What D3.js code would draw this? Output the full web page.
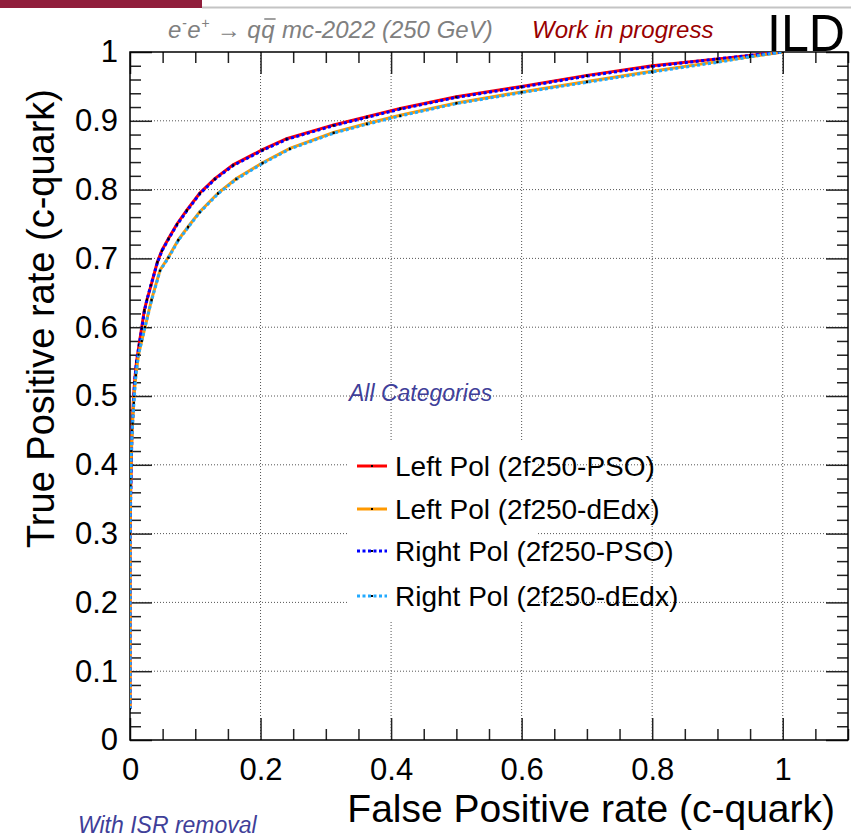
<!DOCTYPE html>
<html>
<head>
<meta charset="utf-8">
<script src="https://cdn.jsdelivr.net/npm/d3@7"></script>
<style>
  body { margin: 0; background: #fff; }
  text { font-family: "Liberation Sans", Arial, sans-serif; }
</style>
</head>
<body>
<div id="chart"></div>
<script>
// ROC curves (FPR, TPR)
var leftPsoFpr = [0, 0, 0.001, 0.002, 0.003, 0.005, 0.007, 0.01, 0.014, 0.018, 0.022, 0.026, 0.032, 0.042, 0.049, 0.059, 0.072, 0.087, 0.107, 0.13, 0.158, 0.203, 0.24, 0.312, 0.363, 0.414, 0.5, 0.6, 0.7, 0.8, 0.9, 0.95, 1.0];
var leftPsoTpr = [0.045, 0.30, 0.36, 0.41, 0.45, 0.49, 0.52, 0.55, 0.575, 0.60, 0.625, 0.64, 0.66, 0.695, 0.712, 0.729, 0.75, 0.77, 0.795, 0.816, 0.836, 0.858, 0.874, 0.894, 0.906, 0.918, 0.935, 0.95, 0.966, 0.98, 0.99, 0.995, 1.0];

var rightPsoFpr = [0, 0, 0.001, 0.002, 0.003, 0.005, 0.007, 0.01, 0.014, 0.018, 0.022, 0.026, 0.032, 0.042, 0.049, 0.059, 0.072, 0.087, 0.107, 0.13, 0.158, 0.203, 0.24, 0.312, 0.363, 0.414, 0.5, 0.6, 0.7, 0.8, 0.9, 0.95, 1.0];
var rightPsoTpr = [0.045, 0.29, 0.35, 0.40, 0.45, 0.48, 0.52, 0.55, 0.574, 0.598, 0.623, 0.64, 0.661, 0.694, 0.711, 0.728, 0.749, 0.769, 0.794, 0.815, 0.835, 0.857, 0.873, 0.893, 0.905, 0.917, 0.934, 0.949, 0.965, 0.979, 0.99, 0.995, 1.0];

var leftDedxFpr = [0, 0, 0.001, 0.002, 0.004, 0.006, 0.009, 0.013, 0.018, 0.023, 0.033, 0.046, 0.059, 0.074, 0.089, 0.107, 0.135, 0.163, 0.203, 0.245, 0.312, 0.363, 0.414, 0.5, 0.6, 0.7, 0.8, 0.9, 0.95, 1.0];
var leftDedxTpr = [0.045, 0.30, 0.38, 0.42, 0.46, 0.5, 0.53, 0.56, 0.58, 0.60, 0.64, 0.683, 0.702, 0.727, 0.746, 0.768, 0.795, 0.816, 0.839, 0.86, 0.883, 0.896, 0.908, 0.926, 0.942, 0.957, 0.972, 0.986, 0.993, 1.0];

var rightDedxFpr = [0, 0, 0.001, 0.002, 0.004, 0.006, 0.009, 0.013, 0.018, 0.023, 0.033, 0.046, 0.059, 0.074, 0.089, 0.107, 0.135, 0.163, 0.203, 0.245, 0.312, 0.363, 0.414, 0.5, 0.6, 0.7, 0.8, 0.9, 0.95, 1.0];
var rightDedxTpr = [0.045, 0.30, 0.37, 0.42, 0.46, 0.49, 0.53, 0.56, 0.58, 0.60, 0.639, 0.682, 0.701, 0.726, 0.745, 0.767, 0.794, 0.815, 0.838, 0.859, 0.882, 0.895, 0.907, 0.925, 0.941, 0.956, 0.971, 0.985, 0.993, 1.0];

var seriesNames = ["Left Pol (2f250-PSO)", "Left Pol (2f250-dEdx)", "Right Pol (2f250-PSO)", "Right Pol (2f250-dEdx)"];

var xTickValues = [0, 0.2, 0.4, 0.6, 0.8, 1.0];
var xTickLabels = ["0", "0.2", "0.4", "0.6", "0.8", "1"];
var yTickValues = [0, 0.1, 0.2, 0.3, 0.4, 0.5, 0.6, 0.7, 0.8, 0.9, 1.0];
var yTickLabels = ["0", "0.1", "0.2", "0.3", "0.4", "0.5", "0.6", "0.7", "0.8", "0.9", "1"];

var svgWidth = 851;
var svgHeight = 838;

var margin = { top: 52, right: 3, bottom: 98, left: 130 };
var width = svgWidth - margin.left - margin.right;
var height = svgHeight - margin.top - margin.bottom;

var svg = d3.select("#chart")
  .append("svg")
  .attr("width", svgWidth)
  .attr("height", svgHeight);

// top banner
svg.append("rect").attr("x", 0).attr("y", 0).attr("width", 202).attr("height", 8).attr("fill", "#901e3c");
svg.append("line").attr("x1", 202).attr("x2", svgWidth).attr("y1", 7.5).attr("y2", 7.5)
  .attr("stroke", "#c4c4c4").attr("stroke-width", 2);

var chartGroup = svg.append("g")
  .attr("transform", `translate(${margin.left}, ${margin.top})`);

var x = d3.scaleLinear().domain([0, 1.1]).range([0, width]);
var y = d3.scaleLinear().domain([0, 1]).range([height, 0]);

// minor tick positions
var xMinor = d3.range(1, 23).map(i => +(i * 0.05).toFixed(2)).filter(v => Math.abs(v * 5 - Math.round(v * 5)) > 1e-6);
var yMinor = d3.range(1, 50).map(i => +(i * 0.02).toFixed(2)).filter(v => Math.abs(v * 10 - Math.round(v * 10)) > 1e-6);

// grid
chartGroup.append("g")
  .selectAll("line")
  .data(xTickValues.slice(1))
  .enter()
  .append("line")
  .attr("x1", d => x(d)).attr("x2", d => x(d))
  .attr("y1", 0).attr("y2", height)
  .attr("stroke", "#555").attr("stroke-width", 1).attr("stroke-dasharray", "1,2");

chartGroup.append("g")
  .selectAll("line")
  .data(yTickValues.slice(1, -1))
  .enter()
  .append("line")
  .attr("x1", 0).attr("x2", width)
  .attr("y1", d => y(d)).attr("y2", d => y(d))
  .attr("stroke", "#555").attr("stroke-width", 1).attr("stroke-dasharray", "1,2");

// legend box (white, no border) drawn over the grid
var legendX = 347, legendY = 440;
svg.append("rect")
  .attr("x", legendX).attr("y", legendY).attr("width", 190).attr("height", 180)
  .attr("fill", "#fff");

// axes: major and minor ticks on all four sides, pointing inward
function cleanAxis(g) {
  g.select(".domain").remove();
  g.selectAll(".tick line").attr("stroke", "#222").attr("stroke-width", 1.5);
  g.selectAll("text").style("font-size", "31px").attr("fill", "#000");
}

chartGroup.append("g")
  .attr("transform", `translate(0, ${height})`)
  .call(d3.axisBottom(x).tickValues(xTickValues).tickFormat((d, i) => xTickLabels[i]).tickSize(-22).tickPadding(18))
  .call(cleanAxis);
chartGroup.append("g")
  .attr("transform", `translate(0, ${height})`)
  .call(d3.axisBottom(x).tickValues(xMinor).tickFormat("").tickSize(-11))
  .call(cleanAxis);
chartGroup.append("g")
  .call(d3.axisTop(x).tickValues(xTickValues).tickFormat("").tickSize(-22))
  .call(cleanAxis);
chartGroup.append("g")
  .call(d3.axisTop(x).tickValues(xMinor).tickFormat("").tickSize(-11))
  .call(cleanAxis);

chartGroup.append("g")
  .call(d3.axisLeft(y).tickValues(yTickValues).tickFormat((d, i) => yTickLabels[i]).tickSize(-22).tickPadding(12))
  .call(cleanAxis);
chartGroup.append("g")
  .call(d3.axisLeft(y).tickValues(yMinor).tickFormat("").tickSize(-11))
  .call(cleanAxis);
chartGroup.append("g")
  .attr("transform", `translate(${width}, 0)`)
  .call(d3.axisRight(y).tickValues(yTickValues).tickFormat("").tickSize(-22))
  .call(cleanAxis);
chartGroup.append("g")
  .attr("transform", `translate(${width}, 0)`)
  .call(d3.axisRight(y).tickValues(yMinor).tickFormat("").tickSize(-11))
  .call(cleanAxis);

// frame
chartGroup.append("rect")
  .attr("width", width).attr("height", height)
  .attr("fill", "none").attr("stroke", "#000").attr("stroke-width", 1.5);

// curves
chartGroup.append("clipPath").attr("id", "plotClip")
  .append("rect").attr("width", width).attr("height", height);

var series = [
  { name: seriesNames[0], fpr: leftPsoFpr, tpr: leftPsoTpr, color: "#ff0000", dash: null },
  { name: seriesNames[1], fpr: leftDedxFpr, tpr: leftDedxTpr, color: "#ff9900", dash: null },
  { name: seriesNames[2], fpr: rightPsoFpr, tpr: rightPsoTpr, color: "#0000ff", dash: "3,2.5" },
  { name: seriesNames[3], fpr: rightDedxFpr, tpr: rightDedxTpr, color: "#22aaff", dash: "3,2.5" }
];

var line = d3.line().x(d => x(d[0])).y(d => y(d[1]));
var curves = chartGroup.append("g").attr("clip-path", "url(#plotClip)");

series.forEach(function(s) {
  var pts = s.fpr.map((f, i) => [f, s.tpr[i]]);
  curves.append("path")
    .datum(pts)
    .attr("d", line)
    .attr("fill", "none")
    .attr("stroke", s.color)
    .attr("stroke-width", 3)
    .attr("stroke-dasharray", s.dash);
  curves.selectAll(null)
    .data(pts)
    .enter()
    .append("rect")
    .attr("x", d => x(d[0]) - 1)
    .attr("y", d => y(d[1]) - 1)
    .attr("width", 2).attr("height", 2)
    .attr("fill", "#000");
});

// legend
var legend = svg.append("g");
var legendRows = [466, 509, 551, 596];
series.forEach(function(s, i) {
  var ly = legendRows[i];
  legend.append("line")
    .attr("x1", 357).attr("x2", 387).attr("y1", ly).attr("y2", ly)
    .attr("stroke", s.color).attr("stroke-width", 3)
    .attr("stroke-dasharray", s.dash);
  legend.append("rect").attr("x", 371).attr("y", ly - 1).attr("width", 2).attr("height", 2).attr("fill", "#000");
  legend.append("text")
    .attr("x", 395).attr("y", ly + 10)
    .style("font-size", "28px")
    .text(s.name);
});

svg.append("text")
  .attr("x", 349).attr("y", 401)
  .style("font-size", "23px").style("font-style", "italic")
  .attr("fill", "#3f3f99")
  .text("All Categories");

// axis titles
svg.append("text")
  .attr("x", 835).attr("y", 822)
  .attr("text-anchor", "end")
  .style("font-size", "39px")
  .text("False Positive rate (c-quark)");

svg.append("text")
  .attr("transform", "rotate(-90)")
  .attr("x", -89).attr("y", 54)
  .attr("text-anchor", "end")
  .style("font-size", "38px")
  .text("True Positive rate (c-quark)");

// header texts
var header = svg.append("g").attr("fill", "#808080").style("font-style", "italic");
var hx = 168, hy = 38;
var pieces = [
  { t: "e", size: 24, dy: 0 },
  { t: "-", size: 14, dy: -10 },
  { t: "e", size: 24, dy: 0 },
  { t: "+", size: 14, dy: -10 },
  { t: " \u2192 q", size: 24, dy: 0 },
  { t: "q", size: 24, dy: 0, bar: true },
  { t: " mc-2022 (250 GeV)", size: 24, dy: 0 }
];
pieces.forEach(function(p) {
  var t = header.append("text")
    .attr("x", hx).attr("y", hy + p.dy)
    .style("font-size", p.size + "px")
    .style("white-space", "pre")
    .attr("xml:space", "preserve")
    .text(p.t);
  var w = t.node().getComputedTextLength();
  if (p.bar) {
    header.append("line")
      .attr("x1", hx + 3).attr("x2", hx + w + 1)
      .attr("y1", hy - 19).attr("y2", hy - 19)
      .attr("stroke", "#808080").attr("stroke-width", 1.5);
  }
  hx += w + 0.6;
});

svg.append("text")
  .attr("x", 532).attr("y", 38)
  .style("font-size", "24px").style("font-style", "italic")
  .attr("fill", "#990000")
  .text("Work in progress");

svg.append("text")
  .attr("x", 767).attr("y", 51)
  .attr("textLength", 78).attr("lengthAdjust", "spacingAndGlyphs")
  .style("font-size", "52px")
  .text("ILD");

svg.append("text")
  .attr("x", 78).attr("y", 833)
  .style("font-size", "23px").style("font-style", "italic")
  .attr("fill", "#3f3f99")
  .text("With ISR removal");
</script>
</body>
</html>
